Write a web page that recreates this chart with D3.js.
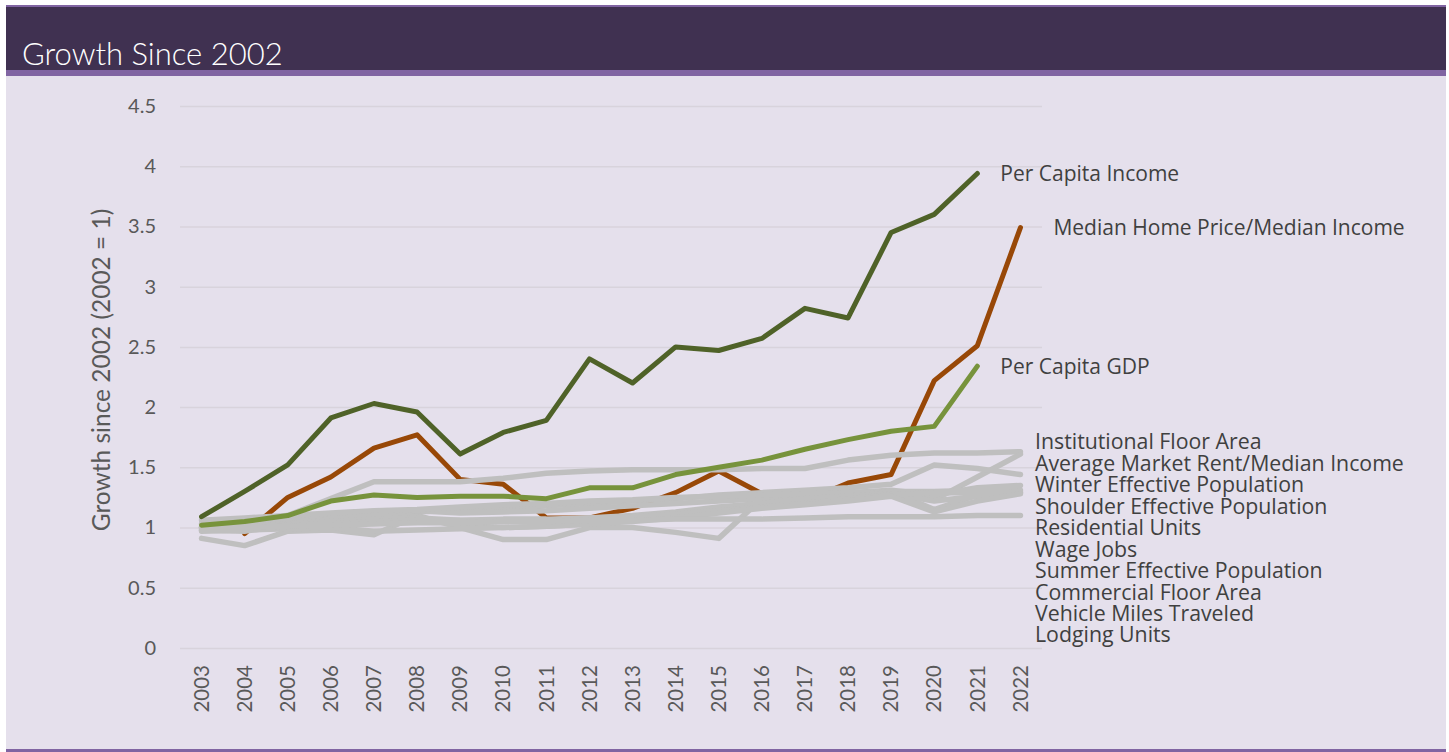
<!DOCTYPE html>
<html>
<head>
<meta http-equiv="Content-Type" content="text/html;charset=utf-8"/>
<script src="https://cdn.jsdelivr.net/npm/d3@7"></script>
<style>
  body { margin: 0; background: #fff; }
  text { font-family: "Open Sans", "Noto Sans", sans-serif; }
  .tick text { font-family: Lato, "Open Sans", sans-serif; fill: #595959; }
</style>
</head>
<body>
<div id="chart"></div>
<script>

// years on the category axis
var years = ["2003","2004","2005","2006","2007","2008","2009","2010","2011","2012",
             "2013","2014","2015","2016","2017","2018","2019","2020","2021","2022"];
var yTicks = [0, 0.5, 1, 1.5, 2, 2.5, 3, 3.5, 4, 4.5];

// highlighted series (null = no value)
var perCapitaIncome = [1.09,1.30,1.52,1.91,2.03,1.96,1.61,1.79,1.89,2.40,2.20,2.50,2.47,2.57,2.82,2.74,3.45,3.60,3.94,null];
var homePriceIncome = [null,0.95,1.25,1.42,1.66,1.77,1.40,1.36,1.08,1.08,1.16,1.29,1.47,1.28,1.22,1.37,1.44,2.22,2.51,3.49];
var perCapitaGDP    = [1.02,1.05,1.10,1.22,1.27,1.25,1.26,1.26,1.24,1.33,1.33,1.44,1.50,1.56,1.65,1.73,1.80,1.84,2.34,null];

// grey series, listed in legend order
var greyNames = ["Institutional Floor Area","Average Market Rent/Median Income","Winter Effective Population",
  "Shoulder Effective Population","Residential Units","Wage Jobs","Summer Effective Population",
  "Commercial Floor Area","Vehicle Miles Traveled","Lodging Units"];
var institutional = [1.00,1.03,1.10,1.24,1.38,1.38,1.38,1.41,1.45,1.47,1.48,1.48,1.48,1.49,1.49,1.56,1.60,1.62,1.62,1.63];
var marketRent    = [0.91,0.85,0.97,0.98,0.94,1.10,1.00,0.90,0.90,1.00,1.00,0.96,0.91,1.24,1.26,1.28,1.30,1.23,1.42,1.61];
var winterPop     = [0.98,0.97,1.02,1.07,1.10,1.13,1.15,1.15,1.18,1.20,1.22,1.24,1.27,1.29,1.31,1.33,1.36,1.52,1.49,1.44];
var shoulderPop   = [1.03,1.04,1.07,1.10,1.12,1.14,1.12,1.13,1.14,1.16,1.18,1.20,1.22,1.24,1.27,1.29,1.31,1.27,1.33,1.35];
var resUnits      = [1.06,1.08,1.10,1.12,1.14,1.15,1.17,1.19,1.20,1.22,1.23,1.25,1.26,1.27,1.28,1.29,1.30,1.30,1.31,1.31];
var wageJobs      = [0.98,0.99,1.03,1.07,1.10,1.09,1.02,1.00,1.01,1.03,1.06,1.10,1.14,1.18,1.22,1.26,1.30,1.15,1.27,1.30];
var summerPop     = [1.00,1.01,1.03,1.05,1.07,1.08,1.06,1.05,1.06,1.08,1.10,1.13,1.17,1.20,1.24,1.26,1.28,1.22,1.26,1.29];
var commercial    = [1.00,1.01,1.02,1.03,1.05,1.06,1.06,1.07,1.07,1.08,1.09,1.11,1.14,1.17,1.20,1.24,1.27,1.29,1.29,1.29];
var vmt           = [0.97,0.98,0.99,1.00,0.97,0.98,0.99,1.00,1.01,1.03,1.05,1.08,1.12,1.16,1.19,1.22,1.26,1.13,1.22,1.28];
var lodging       = [1.00,1.00,1.01,1.02,1.03,1.04,1.04,1.05,1.05,1.06,1.06,1.07,1.07,1.07,1.08,1.09,1.09,1.09,1.10,1.10];
var greyValues = [institutional, marketRent, winterPop, shoulderPop, resUnits, wageJobs, summerPop, commercial, vmt, lodging];

var W = 1449, H = 752;
var plotLeft = 180, plotRight = 1042, plotTop = 106, plotBottom = 648;

var svg = d3.select("#chart").append("svg")
    .attr("width", W).attr("height", H);

// frame: header band, stripes and lavender panel
svg.append("rect").attr("x", 6).attr("y", 5).attr("width", 1440).attr("height", 747).attr("fill", "#8064a2");
svg.append("rect").attr("x", 6).attr("y", 7).attr("width", 1440).attr("height", 63).attr("fill", "#403151");
svg.append("rect").attr("x", 6).attr("y", 76).attr("width", 1440).attr("height", 673).attr("fill", "#e5e0ec");

svg.append("text")
    .attr("x", 22).attr("y", 65)
    .style("font-family", "Lato, 'Open Sans', sans-serif")
    .style("font-weight", 300)
    .style("font-size", "31px")
    .attr("fill", "#ffffff")
    .text("Growth Since 2002");

var x = d3.scaleBand().domain(years).range([plotLeft, plotRight]);
var y = d3.scaleLinear().domain([0, 4.5]).range([plotBottom, plotTop]);
function px(d, i) { return x(years[i]) + x.bandwidth() / 2; }

// y axis with gridlines
var yAxis = svg.append("g")
    .attr("transform", "translate(" + plotLeft + ",0)")
    .call(d3.axisLeft(y).tickValues(yTicks).tickFormat(d3.format("")).tickSize(-(plotRight - plotLeft)).tickPadding(24));
yAxis.select(".domain").remove();
yAxis.selectAll(".tick line").attr("stroke", "#d8d3dc").attr("stroke-width", 1.5);
yAxis.selectAll(".tick text").style("font-size", "20px");

// x axis, rotated labels
var xAxis = svg.append("g")
    .attr("transform", "translate(0," + plotBottom + ")")
    .call(d3.axisBottom(x).tickSize(0));
xAxis.select(".domain").remove();
xAxis.selectAll(".tick text")
    .style("font-size", "20.5px")
    .attr("text-anchor", "end")
    .attr("transform", "rotate(-90)")
    .attr("x", -17).attr("y", 0).attr("dy", "0.35em");

svg.append("text")
    .attr("transform", "translate(110,370) rotate(-90)")
    .attr("text-anchor", "middle")
    .style("font-family", "Lato, 'Open Sans', sans-serif")
    .style("font-size", "24.5px")
    .attr("fill", "#595959")
    .text("Growth since 2002 (2002 = 1)");

var line = d3.line()
    .defined(function(d) { return d != null; })
    .x(px)
    .y(function(d) { return y(d); });

function draw(values, color, w) {
  svg.append("path")
      .datum(values)
      .attr("d", line)
      .attr("fill", "none")
      .attr("stroke", color)
      .attr("stroke-width", w)
      .attr("stroke-linejoin", "round")
      .attr("stroke-linecap", "round");
}

draw(homePriceIncome, "#984807", 5);
greyValues.forEach(function(v) { draw(v, "#bfbfbf", 5.5); });
draw(perCapitaGDP, "#77933c", 5);
draw(perCapitaIncome, "#4f6228", 5);

// end labels for highlighted series
function endLabel(values, name, off) {
  var i = values.length - 1;
  while (values[i] == null) i--;
  svg.append("text")
      .attr("x", px(null, i) + off).attr("y", y(values[i]))
      .attr("dy", "0.35em")
      .style("font-size", "21px")
      .attr("fill", "#404040")
      .text(name);
}
endLabel(perCapitaIncome, "Per Capita Income", 23);
endLabel(homePriceIncome, "Median Home Price/Median Income", 33);
endLabel(perCapitaGDP, "Per Capita GDP", 23);

// grey legend list
var ly = d3.scalePoint().domain(greyNames).range([442, 635]);
svg.selectAll(".greyLabel")
    .data(greyNames)
    .enter().append("text")
    .attr("class", "greyLabel")
    .attr("x", plotRight - 7)
    .attr("y", function(d) { return ly(d); })
    .attr("dy", "0.35em")
    .style("font-size", "21.3px")
    .attr("fill", "#404040")
    .text(function(d) { return d; });

</script>
</body>
</html>
